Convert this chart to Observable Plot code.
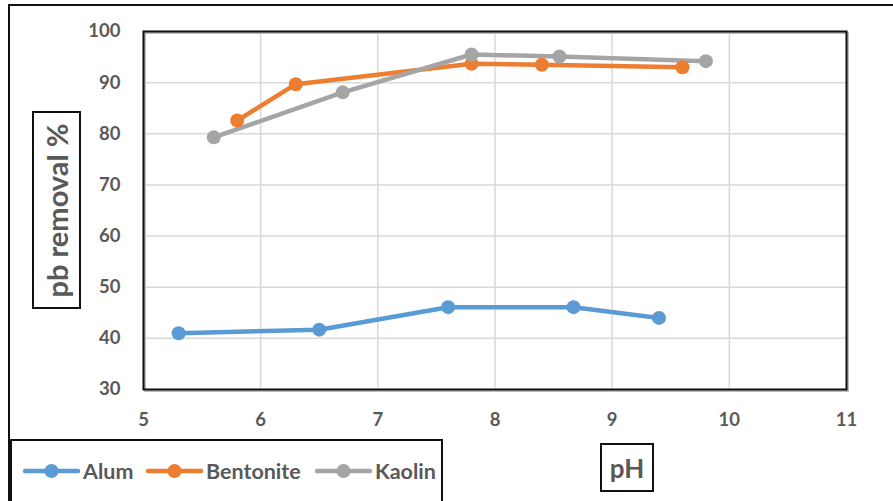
<!DOCTYPE html>
<html>
<head>
<meta charset="utf-8">
<script src="https://cdn.jsdelivr.net/npm/d3@7"></script>
<script src="https://cdn.jsdelivr.net/npm/@observablehq/plot@0.6"></script>
<style>
  html, body { margin: 0; padding: 0; background: #fff; overflow: hidden; }
  #wrap { position: relative; width: 893px; height: 501px; font-family: Lato, "Open Sans", sans-serif; }
  #wrap > svg { position: absolute; left: 0; top: 0; }
  .outer { position: absolute; left: 8px; top: 4px; width: 1000px; height: 600px;
           border-left: 2.5px solid #111; border-top: 2.5px solid #111; }
  .box { position: absolute; border: 2px solid #111; background: #fff; box-sizing: border-box;
         color: #595959; font-weight: 700; display: flex; align-items: center; justify-content: center; }
  .legend { position: absolute; left: 10px; top: 439px; width: 433px; height: 80px;
            border: 2px solid #111; box-sizing: border-box; background: #fff; }
  .item { position: absolute; top: 17px; height: 26px; display: flex; align-items: center;
          color: #595959; font-weight: 700; font-size: 21.5px; }
  .item svg { margin-right: 3px; }
</style>
</head>
<body>
<div id="wrap"></div>
<script>
// pH values and Pb removal (%) for each adsorbent
const seriesNames = ["Alum", "Bentonite", "Kaolin"];
const seriesColors = ["#5b9bd5", "#ed7d31", "#a5a5a5"];
const phAlum = [5.3, 6.5, 7.6, 8.67, 9.4];
const removalAlum = [41.0, 41.7, 46.1, 46.1, 44.0];
const phBentonite = [5.8, 6.3, 7.8, 8.4, 9.6];
const removalBentonite = [82.6, 89.7, 93.7, 93.5, 93.0];
const phKaolin = [5.6, 6.7, 7.8, 8.55, 9.8];
const removalKaolin = [79.3, 88.1, 95.5, 95.1, 94.2];
const xTicks = [5, 6, 7, 8, 9, 10, 11];
const yTicks = [30, 40, 50, 60, 70, 80, 90, 100];
const xTitle = "pH";
const yTitle = "pb removal %";

const rows = [
  ...phAlum.map((p, i) => ({series: "Alum", ph: p, removal: removalAlum[i]})),
  ...phBentonite.map((p, i) => ({series: "Bentonite", ph: p, removal: removalBentonite[i]})),
  ...phKaolin.map((p, i) => ({series: "Kaolin", ph: p, removal: removalKaolin[i]}))
];

const wrap = document.getElementById("wrap");

const outer = document.createElement("div");
outer.className = "outer";
wrap.appendChild(outer);

const chart = Plot.plot({
  width: 893,
  height: 501,
  marginLeft: 143,
  marginRight: 47,
  marginTop: 31,
  marginBottom: 112,
  style: {background: "transparent", fontFamily: "Lato, 'Open Sans', sans-serif", overflow: "visible"},
  x: {domain: [5, 11]},
  y: {domain: [30, 100]},
  color: {domain: seriesNames, range: seriesColors},
  marks: [
    Plot.gridX(xTicks, {stroke: "#d9d9d9", strokeOpacity: 1, strokeWidth: 1.5}),
    Plot.gridY(yTicks, {stroke: "#d9d9d9", strokeOpacity: 1, strokeWidth: 1.5}),
    Plot.frame({stroke: "#bdbdbd", strokeWidth: 2, dx: 1.5, dy: 1.5}),
    Plot.frame({stroke: "#111", strokeWidth: 2}),
    Plot.axisX({ticks: xTicks, tickSize: 0, tickPadding: 23, fontSize: 18.5, fontWeight: 700,
                fill: "#595959", label: null, tickFormat: d => String(d)}),
    Plot.axisY({ticks: yTicks, tickSize: 0, tickPadding: 23, fontSize: 18.5, fontWeight: 700,
                fill: "#595959", label: null}),
    Plot.line(rows, {x: "ph", y: "removal", z: "series", stroke: "series", strokeWidth: 4.5,
                     strokeLinejoin: "round", strokeLinecap: "round"}),
    Plot.dot(rows, {x: "ph", y: "removal", fill: "series", r: 7})
  ]
});
wrap.appendChild(chart);

// axis titles in boxed labels
const yBox = document.createElement("div");
yBox.className = "box";
Object.assign(yBox.style, {left: "32px", top: "111px", width: "49px", height: "198px"});
const yText = document.createElement("div");
yText.textContent = yTitle;
Object.assign(yText.style, {transform: "rotate(-90deg)", whiteSpace: "nowrap", fontSize: "29px"});
yBox.appendChild(yText);
wrap.appendChild(yBox);

const xBox = document.createElement("div");
xBox.className = "box";
Object.assign(xBox.style, {left: "600px", top: "443px", width: "54px", height: "49px", fontSize: "26px"});
xBox.textContent = xTitle;
wrap.appendChild(xBox);

// legend
const legend = document.createElement("div");
legend.className = "legend";
wrap.appendChild(legend);
const itemLeft = [11, 134, 303];
seriesNames.forEach((name, i) => {
  const item = document.createElement("div");
  item.className = "item";
  item.style.left = itemLeft[i] + "px";
  const sw = d3.create("svg").attr("width", 57).attr("height", 20);
  sw.append("line").attr("x1", 2).attr("x2", 55).attr("y1", 10).attr("y2", 10)
    .attr("stroke", seriesColors[i]).attr("stroke-width", 4.5).attr("stroke-linecap", "round");
  sw.append("circle").attr("cx", 28.5).attr("cy", 10).attr("r", 7).attr("fill", seriesColors[i]);
  item.appendChild(sw.node());
  const label = document.createElement("span");
  label.textContent = name;
  item.appendChild(label);
  legend.appendChild(item);
});
</script>
</body>
</html>
